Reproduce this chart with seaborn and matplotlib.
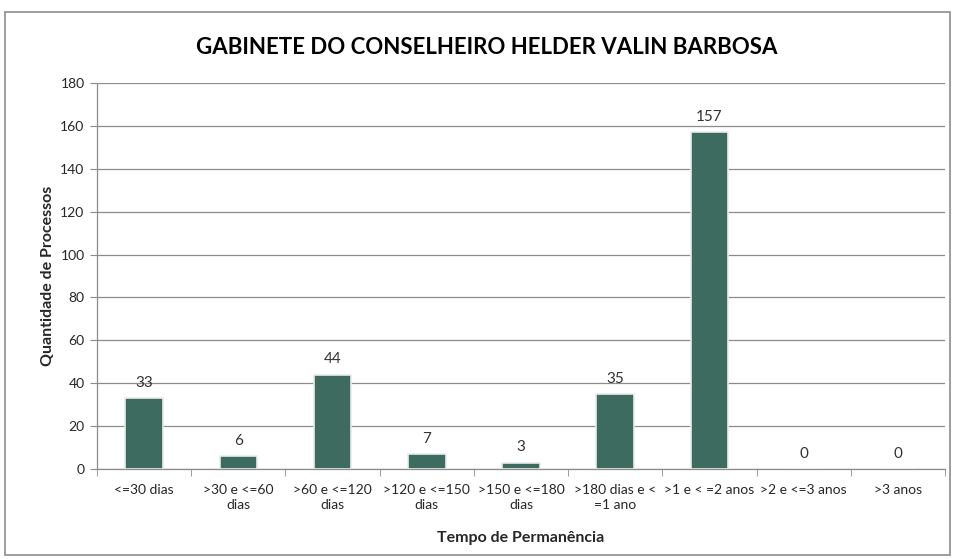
import matplotlib
matplotlib.use("Agg")
import matplotlib.pyplot as plt
import seaborn as sns
import pandas as pd
from matplotlib.patches import Rectangle

categories = ["<=30 dias", ">30 e <=60\ndias", ">60 e <=120\ndias", ">120 e <=150\ndias",
              ">150 e <=180\ndias", ">180 dias e <\n=1 ano", ">1 e < =2 anos",
              ">2 e <=3 anos", ">3 anos"]
values = [33, 6, 44, 7, 3, 35, 157, 0, 0]
y_ticks = [0, 20, 40, 60, 80, 100, 120, 140, 160, 180]

sns.set_style("white")
plt.rcParams["font.family"] = ["Lato", "DejaVu Sans"]

df = pd.DataFrame({"cat": categories, "val": values})

fig = plt.figure(figsize=(9.55, 5.59), dpi=100)
ax = fig.add_axes([0.1016, 0.161, 0.888, 0.6905])

sns.barplot(data=df, x="cat", y="val", color="#3D6B5F", saturation=1,
            width=0.4, edgecolor="#e8ecea", linewidth=1.2, ax=ax, zorder=3)

for c in ax.containers:
    ax.bar_label(c, padding=6, fontsize=11, color="#333333")

ax.set_ylim(0, 180)
ax.set_yticks(y_ticks)
ax.set_xlim(-0.5, len(categories) - 0.5)
ax.yaxis.grid(True, color="#8c8c8c", linewidth=0.9, zorder=0)
ax.set_axisbelow(True)

for s in ["top", "right"]:
    ax.spines[s].set_visible(False)
for s in ["left", "bottom"]:
    ax.spines[s].set_color("#8c8c8c")
    ax.spines[s].set_linewidth(0.9)

ax.tick_params(axis="y", left=True, length=5, color="#8c8c8c", labelsize=10, pad=4)
ax.tick_params(axis="x", bottom=False, labelsize=10, pad=7)
ax.set_xticks(range(len(categories)))
ax.set_xticklabels(categories, linespacing=1.35)
ax.set_xticks([i - 0.5 for i in range(len(categories) + 1)], minor=True)
ax.tick_params(axis="x", which="minor", bottom=True, length=5, color="#8c8c8c")

ax.set_xlabel("Tempo de Permanência", fontsize=11.5, fontweight="bold", labelpad=14)
ax.set_ylabel("Quantidade de Processos", fontsize=11.5, fontweight="bold", labelpad=4)
fig.text(0.51, 0.915, "GABINETE DO CONSELHEIRO HELDER VALIN BARBOSA",
         ha="center", va="center", fontsize=16, fontweight="bold", color="black")

fig.patches.append(Rectangle((5 / 955, 4 / 559), 945 / 955, 543 / 559,
                             transform=fig.transFigure, fill=False,
                             edgecolor="#8c8c8c", linewidth=1.2))

fig.savefig("out.png", dpi=100)
